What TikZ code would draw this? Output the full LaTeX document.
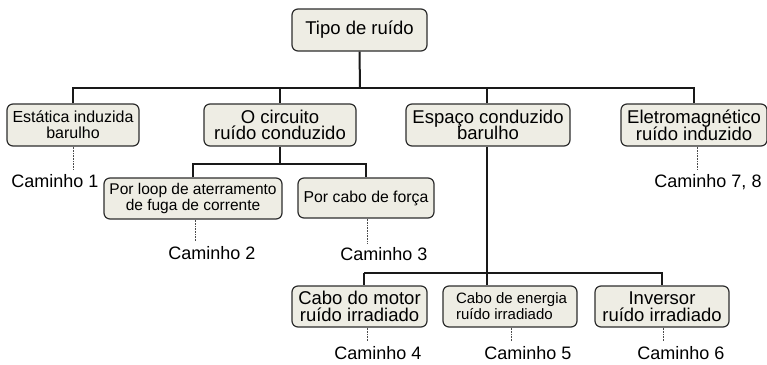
\documentclass[tikz,border=0pt]{standalone}
\usepackage{fontspec}
\setmainfont{Liberation Sans}
\definecolor{boxfill}{RGB}{238,237,228}
\definecolor{boxline}{RGB}{45,45,45}
\newcommand\mytightls{\lineskiplimit=-30pt\relax}
\begin{document}
\begin{tikzpicture}[x=1pt,y=-1pt,
  box/.style={draw=boxline, fill=boxfill, line width=1.2pt, rounded corners=6pt,
    align=center, inner sep=0pt, font=\fontsize{18.5}{16.7}\selectfont\mytightls},
  smallbox/.style={box, font=\fontsize{15.5}{16}\selectfont\mytightls},
  pathlbl/.style={inner sep=0pt, font=\fontsize{18}{20}\selectfont},
  tree/.style={line width=1.2pt, draw=black!90},
  trunk/.style={line width=2pt, draw=black!90},
  dots/.style={draw=black!70, line width=0.8pt, dash pattern=on 0.8pt off 0.8pt}
]
\useasboundingbox (0,0) rectangle (767,364);

% boxes
\node[box, minimum width=135pt, minimum height=42pt] (top) at (359.5,30) {Tipo de ruído};
\node[box, minimum width=132pt, minimum height=42pt, font=\fontsize{16}{16}\selectfont\mytightls] (est) at (73,125) {Estática induzida\\barulho};
\node[box, minimum width=152pt, minimum height=42pt] (circ) at (280,125) {O circuito\\ruído conduzido};
\node[box, minimum width=164pt, minimum height=42pt] (esp) at (488,125) {Espaço conduzido\\barulho};
\node[box, minimum width=146pt, minimum height=42pt] (elet) at (694,125) {Eletromagnético\\ruído induzido};
\node[smallbox, minimum width=178pt, minimum height=41pt] (loop) at (193,198.5) {Por loop de aterramento\\de fuga de corrente};
\node[smallbox, minimum width=136pt, minimum height=40pt, font=\fontsize{15.8}{16}\selectfont] (forca) at (366,198) {Por cabo de força};
\node[box, minimum width=135pt, minimum height=41pt] (motor) at (359.5,306.5) {Cabo do motor\\ruído irradiado};
\node[smallbox, minimum width=134pt, minimum height=41pt, align=left, font=\fontsize{15}{16}\selectfont\mytightls] (energia) at (510,306.5) {\hspace*{3pt}Cabo de energia\\\hspace*{3pt}ruído irradiado};
\node[box, minimum width=134pt, minimum height=41pt] (inv) at (662,306.5) {Inversor\\ruído irradiado};

% path labels
\node[pathlbl] (c1) at (55,181.5) {Caminho 1};
\node[pathlbl] (c2) at (212,253) {Caminho 2};
\node[pathlbl] (c3) at (384,254) {Caminho 3};
\node[pathlbl] (c78) at (708,182) {Caminho 7, 8};
\node[pathlbl] (c4) at (378,353) {Caminho 4};
\node[pathlbl] (c5) at (528,353) {Caminho 5};
\node[pathlbl] (c6) at (681,353) {Caminho 6};

% tree connectors
\coordinate (h1) at (360,88);
\coordinate (h2) at (280,164);
\coordinate (h3) at (487,273);
\draw[trunk] (top.south) -- (h1);
\draw[tree] (est.north) |- (h1) -| (elet.north);
\draw[tree] (circ.north |- h1) -- (circ.north);
\draw[tree] (esp.north -| h3) -- (h1 -| h3);

\draw[tree] (circ.south) -- (h2);
\draw[tree] (loop.north) |- (h2) -| (forca.north);

\draw[trunk, line width=1.5pt] (esp.south -| h3) -- (energia.north -| h3);
\coordinate (m1) at (364,273);
\draw[tree] (m1) -- (m1 |- motor.north);
\draw[tree] (m1) -- (h3) -| (inv.north);

% dotted leaders
\coordinate (d1) at (73,170);
\coordinate (d2) at (195,241);
\coordinate (d3) at (367,243);
\coordinate (d78) at (697,170);
\coordinate (d4) at (367,341);
\coordinate (d5) at (511,341);
\coordinate (d6) at (663,341);
\draw[dots] (d1 |- est.south) -- (d1);
\draw[dots] (d2 |- loop.south) -- (d2);
\draw[dots] (d3 |- forca.south) -- (d3);
\draw[dots] (d78 |- elet.south) -- (d78);
\draw[dots] (d4 |- motor.south) -- (d4);
\draw[dots] (d5 |- energia.south) -- (d5);
\draw[dots] (d6 |- inv.south) -- (d6);
\end{tikzpicture}
\end{document}
